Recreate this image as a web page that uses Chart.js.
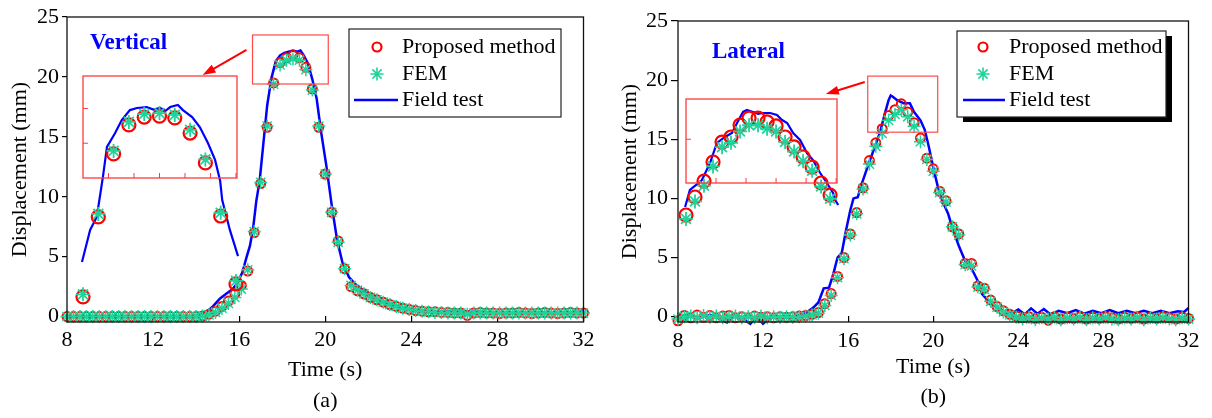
<!DOCTYPE html>
<html>
<head>
<meta charset="utf-8">
<script src="https://cdn.jsdelivr.net/npm/chart.js@4.4.0/dist/chart.umd.min.js"></script>
<style>
  body { margin: 0; background: #fff; }
  #wrap { position: relative; width: 1212px; height: 418px; overflow: hidden; }
  #wrap canvas { position: absolute; }
</style>
</head>
<body>
<div id="wrap">
  <canvas id="vertical" width="606" height="418" style="left:0;top:0"></canvas>
  <canvas id="lateral" width="606" height="418" style="left:606px;top:0"></canvas>
  <canvas id="vertical_zoom" width="200" height="270" style="left:60px;top:60px"></canvas>
  <canvas id="lateral_zoom" width="185" height="150" style="left:670px;top:85px"></canvas>
</div>
<script>
// marker times (s), same for both panels
var t_marks = [8.0, 8.3, 8.6, 8.9, 9.2, 9.5, 9.8, 10.1, 10.4, 10.7, 11.0, 11.3, 11.6, 11.9, 12.2, 12.5, 12.8, 13.1, 13.4, 13.7,
  14.0, 14.3, 14.6, 14.9, 15.2, 15.5, 15.8, 16.1, 16.4, 16.7, 17.0, 17.3, 17.6, 17.9, 18.2, 18.5, 18.8, 19.1, 19.4, 19.7,
  20.0, 20.3, 20.6, 20.9, 21.2, 21.5, 21.8, 22.1, 22.4, 22.7, 23.0, 23.3, 23.6, 23.9, 24.2, 24.5, 24.8, 25.1, 25.4, 25.7,
  26.0, 26.3, 26.6, 26.9, 27.2, 27.5, 27.8, 28.1, 28.4, 28.7, 29.0, 29.3, 29.6, 29.9, 30.2, 30.5, 30.8, 31.1, 31.4, 31.7, 32.0];

// (a) vertical displacement (mm)
var v_prop = [0, 0, 0, 0, 0, 0, 0, 0, 0, 0, 0, 0, 0, 0, 0, 0, 0, 0, 0, 0, 0,
  0.05, 0.2, 0.45, 0.85, 1.3, 1.9, 2.6, 3.8, 7.0, 11.1, 15.8, 19.5, 21.2, 21.6, 21.8, 21.6, 20.8, 19.0, 15.8,
  11.9, 8.7, 6.3, 4.0, 2.5, 2.15, 1.9, 1.6, 1.4, 1.2, 1.0, 0.85, 0.7, 0.6, 0.5, 0.45, 0.4, 0.4, 0.35, 0.35,
  0.3, 0.3, 0.1, 0.3, 0.35, 0.3, 0.3, 0.25, 0.3, 0.3, 0.35, 0.3, 0.25, 0.3, 0.35, 0.3, 0.25, 0.3, 0.35, 0.3, 0.3];
var v_fem = [0, 0, 0, 0, 0, 0, 0, 0, 0, 0, 0, 0, 0, 0, 0, 0, 0, 0, 0, 0, 0,
  0.05, 0.15, 0.35, 0.7, 1.1, 1.6, 2.3, 3.9, 7.1, 11.2, 15.9, 19.4, 21.0, 21.4, 21.5, 21.4, 20.6, 18.9, 15.9,
  11.9, 8.7, 6.2, 4.0, 2.6, 2.2, 1.9, 1.6, 1.4, 1.2, 1.0, 0.85, 0.7, 0.6, 0.5, 0.45, 0.4, 0.35, 0.35, 0.3,
  0.3, 0.3, 0.2, 0.3, 0.3, 0.3, 0.3, 0.3, 0.3, 0.3, 0.3, 0.3, 0.3, 0.3, 0.3, 0.3, 0.3, 0.3, 0.3, 0.3, 0.3];
var v_field_t = [8.0, 9.0, 10.0, 11.0, 12.0, 13.0, 13.8, 14.2, 14.5, 14.8, 15.1, 15.4, 15.7, 15.9, 16.15, 16.35, 16.5, 16.65,
  16.8, 16.95, 17.1, 17.3, 17.5, 17.7, 17.9, 18.1, 18.3, 18.5, 18.7, 18.85, 19.0, 19.2, 19.4, 19.6, 19.8, 20.05, 20.3,
  20.55, 20.8, 21.1, 21.4, 21.7, 22.0, 22.4, 22.8, 23.2, 23.6, 24.0, 24.5, 25.0, 26.0, 27.0, 28.0, 29.0, 30.0, 31.0, 31.8, 32.0];
var v_field = [0, 0, 0, 0, 0, 0, 0.02, 0.1, 0.4, 0.9, 1.5, 1.9, 2.3, 2.75, 3.7, 5.0, 5.9, 7.4,
  9.7, 11.3, 14.0, 17.6, 19.9, 21.3, 21.8, 22.0, 22.1, 22.2, 22.1, 22.2, 21.8, 21.1, 19.8, 18.2, 15.5, 12.6, 9.3,
  6.4, 4.5, 3.3, 2.7, 2.3, 1.85, 1.5, 1.2, 0.95, 0.75, 0.6, 0.5, 0.45, 0.4, 0.4, 0.35, 0.35, 0.35, 0.35, 0.4, 0.5];

// (b) lateral displacement (mm)
var l_prop = [-0.35, 0.1, -0.1, 0.15, -0.05, 0.1, -0.1, 0.05, 0.1, -0.1, 0.0, -0.1, 0.05, -0.05, 0.0, -0.1, 0.0, -0.05, 0.0, 0.05,
  0.1, 0.2, 0.35, 1.1, 1.95, 3.4, 5.0, 7.0, 8.8, 10.9, 13.2, 14.7, 15.9, 17.0, 17.5, 18.0, 17.3, 16.4, 15.1, 13.4,
  12.5, 10.6, 9.8, 7.6, 7.0, 4.5, 4.5, 2.6, 2.4, 1.4, 0.85, 0.5, 0.2, 0.05, -0.1, 0.0, -0.15, -0.05, -0.3, 0.0,
  -0.2, -0.05, -0.15, 0.0, -0.2, -0.05, -0.15, 0.0, -0.1, -0.2, -0.05, -0.15, 0.0, -0.2, -0.05, -0.15, 0.0, -0.1, -0.2, -0.05, -0.15];
var l_fem = [-0.2, 0.0, 0.05, -0.1, 0.1, -0.05, 0.05, -0.1, 0.0, 0.05, -0.1, 0.0, -0.1, 0.05, -0.1, 0.0, -0.05, 0.0, -0.05, 0.0,
  0.05, 0.15, 0.3, 0.95, 1.8, 3.3, 4.9, 6.9, 8.7, 10.8, 12.9, 14.4, 15.5, 16.6, 17.1, 17.5, 16.9, 16.1, 14.8, 13.3,
  12.3, 10.5, 9.7, 7.6, 6.9, 4.4, 4.3, 2.5, 2.3, 1.3, 0.8, 0.4, 0.15, -0.05, -0.2, -0.05, -0.25, -0.1, -0.2, -0.05,
  -0.25, -0.1, -0.2, -0.05, -0.25, -0.1, -0.2, -0.05, -0.2, -0.25, -0.1, -0.2, -0.05, -0.25, -0.1, -0.2, -0.05, -0.2, -0.25, -0.1, -0.2];
var l_field_t = [8.0, 8.5, 9.0, 9.5, 10.0, 10.3, 10.6, 11.0, 11.4, 11.7, 12.0, 12.3, 12.7, 13.2, 13.6, 14.0, 14.35, 14.6, 14.85, 15.1,
  15.3, 15.5, 15.7, 15.9, 16.1, 16.25, 16.45, 16.65, 16.9, 17.2, 17.5, 17.7, 17.9, 18.0, 18.1, 18.3, 18.6, 18.9, 19.1, 19.4,
  19.6, 19.8, 20.0, 20.2, 20.45, 20.7, 20.9, 21.2, 21.5, 21.85, 22.1, 22.3, 22.5, 23.0, 23.45, 23.75, 24.0, 24.3, 24.6, 24.9,
  25.2, 25.5, 25.9, 26.3, 26.7, 27.1, 27.5, 27.9, 28.3, 28.7, 29.1, 29.5, 29.9, 30.3, 30.7, 31.1, 31.5, 31.8, 32.0];
var l_field = [0.0, 0.2, -0.1, 0.15, -0.2, -0.5, 0.0, -0.1, -0.6, 0.0, -0.6, -0.1, 0.0, -0.1, 0.1, 0.3, 0.75, 1.2, 2.4, 2.45,
  3.6, 5.0, 5.4, 7.3, 9.0, 10.0, 10.1, 11.3, 12.6, 14.1, 15.6, 17.0, 18.3, 18.7, 18.6, 18.3, 18.05, 18.05, 17.3, 16.6,
  15.8, 14.3, 12.6, 11.1, 9.7, 8.7, 7.5, 6.0, 4.7, 3.9, 3.0, 1.9, 1.5, 0.8, 0.3, 0.35, 0.6, 0.2, 0.7, 0.25,
  0.65, 0.2, 0.5, 0.3, 0.55, 0.25, 0.5, 0.3, 0.55, 0.3, 0.5, 0.3, 0.5, 0.3, 0.5, 0.3, 0.45, 0.4, 0.75];

// zoomed views drawn at the red frames
var vz_t = [16.5, 16.8, 17.1, 17.4, 17.7, 18.0, 18.3, 18.6, 18.9, 19.2, 19.5];
var vz_prop = [14.37, 17.82, 20.54, 21.79, 22.13, 22.17, 22.09, 21.44, 20.15, 17.86, 14.93];
var vz_fem = [14.48, 17.95, 20.67, 21.92, 22.26, 22.3, 22.22, 21.58, 20.3, 18.0, 15.06];
var vz_field_t = [16.48, 16.64, 16.77, 16.83, 16.89, 16.97, 17.13, 17.26, 17.42, 17.56, 17.75, 17.88, 18.01, 18.12, 18.21,
  18.36, 18.46, 18.64, 18.79, 18.95, 19.09, 19.19, 19.23, 19.38, 19.54];
var vz_field = [15.88, 17.26, 17.82, 18.68, 19.54, 20.84, 21.44, 22.0, 22.43, 22.52, 22.56, 22.45, 22.52, 22.4, 22.56,
  22.65, 22.43, 22.13, 21.7, 21.01, 20.28, 19.37, 18.55, 17.26, 16.13];

var lz_t = [15.0, 15.3, 15.6, 15.9, 16.2, 16.5, 16.8, 17.1, 17.4, 17.7, 18.0, 18.3, 18.6, 18.9, 19.2, 19.5, 19.8];
var lz_prop = [13.67, 14.7, 15.61, 16.7, 17.84, 18.13, 18.81, 19.21, 19.21, 18.99, 18.76, 18.13, 17.56, 16.99, 16.41, 15.5, 14.81];
var lz_fem = [13.45, 14.45, 15.35, 16.45, 17.55, 17.8, 18.45, 18.8, 18.8, 18.6, 18.45, 17.85, 17.3, 16.75, 16.2, 15.3, 14.6];
var lz_field_t = [14.97, 15.13, 15.37, 15.53, 15.8, 16.03, 16.3, 16.53, 16.7, 16.9, 17.03, 17.23, 17.4, 17.57, 17.8, 18.03,
  18.2, 18.37, 18.57, 18.8, 19.03, 19.23, 19.47, 19.63, 19.9, 19.97, 20.07];
var lz_field = [14.13, 15.1, 15.44, 15.67, 16.64, 17.79, 18.13, 18.36, 18.93, 19.56, 19.67, 19.56, 19.45, 19.5, 19.5, 19.39,
  19.1, 18.93, 18.36, 17.96, 17.21, 16.81, 16.07, 15.67, 14.93, 14.53, 14.24];

// axis ticks
var x_ticks = { min: 8, max: 32, step: 4 };
var y_ticks = { min: -0.45, max: 25, step: 5 };

// colours
const RED = '#ff0000';
const GREEN = '#1fd49b';
const BLUE = '#0000ff';
const SERIF = "'Liberation Serif', 'Times New Roman', serif";

Chart.defaults.font.family = SERIF;
Chart.defaults.color = '#000';

function pairs(xs, ys) {
  return xs.map((x, i) => ({ x: x, y: ys[i] }));
}

// black box round the plot area
const framePlugin = {
  id: 'frame',
  afterDatasetsDraw(chart, args, opts) {
    const a = chart.chartArea, ctx = chart.ctx;
    ctx.save();
    ctx.strokeStyle = opts.color;
    ctx.lineWidth = opts.width;
    ctx.strokeRect(a.left, a.top, a.right - a.left, a.bottom - a.top);
    ctx.restore();
  }
};

// red frame of a zoom view, with small inward ticks on its lower and left edge
const zoomFramePlugin = {
  id: 'zoomFrame',
  afterDatasetsDraw(chart, args, o) {
    const ctx = chart.ctx, xs = chart.scales.x, ys = chart.scales.y;
    var L = xs.getPixelForValue(o.box[0]), R = xs.getPixelForValue(o.box[1]);
    var B = ys.getPixelForValue(o.box[2]), T = ys.getPixelForValue(o.box[3]);
    ctx.save();
    ctx.strokeStyle = '#ff3a3a';
    ctx.lineWidth = 1.3;
    ctx.strokeRect(L, T, R - L, B - T);
    ctx.lineWidth = 1;
    ctx.beginPath();
    for (var v = Math.ceil(o.box[0] / o.step[0]) * o.step[0]; v < o.box[1] - 1e-6; v += o.step[0]) {
      if (v <= o.box[0] + 1e-6) continue;
      var px = xs.getPixelForValue(v);
      ctx.moveTo(px, B);
      ctx.lineTo(px, B - 5);
    }
    for (var w = Math.ceil(o.box[2] / o.step[1]) * o.step[1]; w < o.box[3] - 1e-6; w += o.step[1]) {
      if (w <= o.box[2] + 1e-6) continue;
      var py = ys.getPixelForValue(w);
      ctx.moveTo(L, py);
      ctx.lineTo(L + 5, py);
    }
    ctx.stroke();
    ctx.restore();
  }
};

function drawStar(ctx, x, y, r) {
  for (var k = 0; k < 4; k++) {
    var ang = k * Math.PI / 4;
    ctx.moveTo(x - r * Math.cos(ang), y - r * Math.sin(ang));
    ctx.lineTo(x + r * Math.cos(ang), y + r * Math.sin(ang));
  }
}

// panel label, red box + arrow, legend
const notesPlugin = {
  id: 'notes',
  afterDatasetsDraw(chart, args, o) {
    const ctx = chart.ctx, a = chart.chartArea;
    const xs = chart.scales.x, ys = chart.scales.y;
    ctx.save();

    ctx.font = 'bold 23px ' + SERIF;
    ctx.fillStyle = BLUE;
    ctx.textBaseline = 'middle';
    ctx.textAlign = 'left';
    ctx.fillText(o.label, a.left + o.labelAt[0], a.top + o.labelAt[1]);

    // box round the zoomed part
    var bx0 = xs.getPixelForValue(o.box[0]), bx1 = xs.getPixelForValue(o.box[1]);
    var by0 = ys.getPixelForValue(o.box[2]), by1 = ys.getPixelForValue(o.box[3]);
    ctx.strokeStyle = '#ff4a4a';
    ctx.lineWidth = 1.2;
    ctx.strokeRect(bx0, by0, bx1 - bx0, by1 - by0);

    // arrow to the zoom view
    var ax0 = xs.getPixelForValue(o.arrow[0]), ay0 = ys.getPixelForValue(o.arrow[1]);
    var ax1 = xs.getPixelForValue(o.arrow[2]), ay1 = ys.getPixelForValue(o.arrow[3]);
    var ang = Math.atan2(ay1 - ay0, ax1 - ax0);
    ctx.strokeStyle = RED;
    ctx.fillStyle = RED;
    ctx.lineWidth = 2;
    ctx.beginPath();
    ctx.moveTo(ax0, ay0);
    ctx.lineTo(ax1 - 8 * Math.cos(ang), ay1 - 8 * Math.sin(ang));
    ctx.stroke();
    ctx.beginPath();
    ctx.moveTo(ax1, ay1);
    ctx.lineTo(ax1 - 13 * Math.cos(ang) + 4.5 * Math.sin(ang), ay1 - 13 * Math.sin(ang) - 4.5 * Math.cos(ang));
    ctx.lineTo(ax1 - 13 * Math.cos(ang) - 4.5 * Math.sin(ang), ay1 - 13 * Math.sin(ang) + 4.5 * Math.cos(ang));
    ctx.closePath();
    ctx.fill();

    // legend
    var L = o.legend;
    var lx = a.left + L.x, ly = a.top + L.y;
    if (L.shadow) {
      ctx.fillStyle = '#000';
      ctx.fillRect(lx + 6, ly + 5, L.w, L.h);
    }
    ctx.fillStyle = '#fff';
    ctx.fillRect(lx, ly, L.w, L.h);
    ctx.strokeStyle = '#222';
    ctx.lineWidth = 1.2;
    ctx.strokeRect(lx, ly, L.w, L.h);

    var rows = ['Proposed method', 'FEM', 'Field test'];
    ctx.font = '22px ' + SERIF;
    ctx.fillStyle = '#000';
    rows.forEach((txt, i) => {
      ctx.fillText(txt, lx + L.text, ly + L.rows[i]);
    });
    var mx = lx + L.mark;
    ctx.strokeStyle = RED;
    ctx.lineWidth = 2.2;
    ctx.beginPath();
    ctx.arc(mx, ly + L.rows[0], 4.5, 0, Math.PI * 2);
    ctx.stroke();
    ctx.strokeStyle = GREEN;
    ctx.lineWidth = 1.6;
    ctx.beginPath();
    drawStar(ctx, mx, ly + L.rows[1], 6.5);
    ctx.stroke();
    ctx.strokeStyle = BLUE;
    ctx.lineWidth = 2.5;
    ctx.beginPath();
    ctx.moveTo(lx + L.line[0], ly + L.rows[2]);
    ctx.lineTo(lx + L.line[1], ly + L.rows[2]);
    ctx.stroke();

    ctx.restore();
  }
};

function makeMain(id, c) {
  return new Chart(document.getElementById(id), {
    type: 'scatter',
    data: {
      datasets: [
        {
          label: 'Proposed method', data: pairs(t_marks, c.prop),
          pointStyle: 'circle', pointRadius: 4.5, pointBorderWidth: 2,
          pointBorderColor: RED, pointBackgroundColor: 'rgba(0,0,0,0)', order: 1, clip: false
        },
        {
          label: 'FEM', data: pairs(t_marks, c.fem),
          pointStyle: 'star', pointRadius: 6.5, pointBorderWidth: 1.5,
          pointBorderColor: GREEN, order: 0, clip: false
        },
        {
          label: 'Field test', data: pairs(c.ft, c.fv), showLine: true,
          borderColor: BLUE, borderWidth: 2.5, pointRadius: 0, tension: 0, order: 2, clip: false
        }
      ]
    },
    options: {
      responsive: false,
      animation: false,
      events: [],
      layout: { autoPadding: false, padding: { left: c.pad[0], top: c.pad[1], right: c.pad[2], bottom: 0 } },
      scales: {
        x: {
          type: 'linear', min: x_ticks.min, max: x_ticks.max,
          ticks: { stepSize: x_ticks.step, includeBounds: false, padding: c.xTickPad, font: { size: 22 }, color: '#000' },
          grid: { drawOnChartArea: false, tickLength: -6, color: '#000', lineWidth: 1.2 },
          border: { display: false },
          title: { display: true, text: 'Time (s)', font: { size: 22 }, color: '#000', padding: { top: 0, bottom: c.xTitlePad } },
          afterFit: s => { s.height = c.xHeight; }
        },
        y: {
          min: y_ticks.min, max: y_ticks.max,
          ticks: { stepSize: y_ticks.step, includeBounds: false, padding: 3, font: { size: 22 }, color: '#000' },
          grid: { drawOnChartArea: false, tickLength: c.yTick, color: '#000', lineWidth: 1.2 },
          border: { display: false },
          title: { display: true, text: 'Displacement (mm)', font: { size: 22 }, color: '#000', padding: { top: c.yTitlePad, bottom: 0 } },
          afterFit: s => { s.width = c.yWidth; }
        }
      },
      plugins: {
        legend: { display: false },
        tooltip: { enabled: false },
        title: {
          display: true, position: 'bottom', text: c.tag, fullSize: false,
          font: { size: 22, weight: 'normal' }, color: '#000', padding: { top: 0, bottom: c.tagPad }
        },
        frame: { color: '#111', width: 1.3 },
        notes: c.notes
      }
    },
    plugins: [framePlugin, notesPlugin]
  });
}

// zoom view: the plot area fills the whole canvas so that marks may stand out of the red frame;
// c.boxPx says where the frame [x0,x1]x[y0,y1] sits on the canvas
function makeZoom(id, c) {
  var cv = document.getElementById(id);
  var W = cv.width, H = cv.height;
  var kx = (c.box[1] - c.box[0]) / (c.boxPx[2] - c.boxPx[0]);
  var ky = (c.box[3] - c.box[2]) / (c.boxPx[3] - c.boxPx[1]);
  return new Chart(cv, {
    type: 'scatter',
    data: {
      datasets: [
        {
          data: pairs(c.t, c.prop), pointStyle: 'circle', pointRadius: 6.5, pointBorderWidth: 2.2,
          pointBorderColor: RED, pointBackgroundColor: 'rgba(0,0,0,0)', order: 1, clip: false
        },
        {
          data: pairs(c.t, c.fem), pointStyle: 'star', pointRadius: 7, pointBorderWidth: 1.8,
          pointBorderColor: GREEN, order: 0, clip: false
        },
        {
          data: pairs(c.ft, c.fv), showLine: true, borderColor: BLUE, borderWidth: 2.2,
          pointRadius: 0, order: 2, clip: false
        }
      ]
    },
    options: {
      responsive: false,
      animation: false,
      events: [],
      layout: { autoPadding: false, padding: 0 },
      scales: {
        x: {
          type: 'linear', display: false,
          min: c.box[0] - c.boxPx[0] * kx, max: c.box[1] + (W - c.boxPx[2]) * kx
        },
        y: {
          display: false,
          min: c.box[2] - (H - c.boxPx[3]) * ky, max: c.box[3] + c.boxPx[1] * ky
        }
      },
      plugins: {
        legend: { display: false },
        tooltip: { enabled: false },
        zoomFrame: { box: c.box, step: c.step }
      }
    },
    plugins: [zoomFramePlugin]
  });
}

// (a) vertical
makeMain('vertical', {
  prop: v_prop, fem: v_fem, ft: v_field_t, fv: v_field,
  pad: [0, 17, 21], yWidth: 67, yTick: 5, yTitlePad: 7,
  xHeight: 66, xTickPad: 11.5, xTitlePad: 5, tag: '(a)', tagPad: 3.6,
  notes: {
    label: 'Vertical', labelAt: [23, 26],
    box: [16.62, 20.14, 23.5, 19.41],
    arrow: [16.34, 22.25, 14.3, 20.16],
    legend: { x: 282, y: 12, w: 212, h: 88, rows: [18, 45, 71], mark: 28, text: 53, line: [5, 49], shadow: false }
  }
});

// (b) lateral
makeMain('lateral', {
  prop: l_prop, fem: l_fem, ft: l_field_t, fv: l_field,
  pad: [0, 21, 23], yWidth: 72, yTick: 7, yTitlePad: 11,
  xHeight: 62, xTickPad: 12.5, xTitlePad: 4, tag: '(b)', tagPad: 7.6,
  notes: {
    label: 'Lateral', labelAt: [34, 31],
    box: [16.92, 20.21, 20.34, 15.6],
    arrow: [16.78, 19.84, 14.95, 18.82],
    legend: { x: 279, y: 10, w: 209, h: 86, rows: [16, 43, 69], mark: 26, text: 52, line: [6, 48], shadow: true }
  }
});

makeZoom('vertical_zoom', {
  t: vz_t, prop: vz_prop, fem: vz_fem, ft: vz_field_t, fv: vz_field,
  box: [16.5, 19.52, 19.5, 23.9], step: [0.5, 1.5], boxPx: [23, 16, 177, 118]
});

makeZoom('lateral_zoom', {
  t: lz_t, prop: lz_prop, fem: lz_fem, ft: lz_field_t, fv: lz_field,
  box: [15.0, 20.03, 15.5, 20.3], step: [1, 3], boxPx: [16, 14, 167, 98]
});
</script>
</body>
</html>
